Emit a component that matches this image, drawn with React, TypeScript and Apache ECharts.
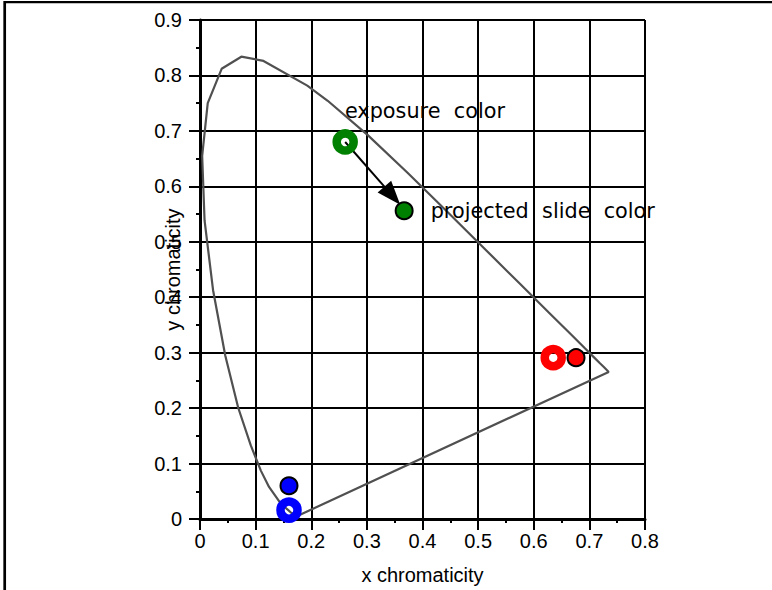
import React, { useEffect, useRef } from "react";
import * as echarts from "echarts";

// CIE 1931 spectral locus (x, y), closed by the purple line
const locusX = [0.1741, 0.1714, 0.1644, 0.1566, 0.144, 0.1241, 0.1096, 0.0913, 0.0687, 0.0454, 0.0235, 0.0082, 0.0039, 0.0139, 0.0389, 0.0743, 0.1142, 0.1929, 0.2296, 0.3016, 0.3731, 0.4441, 0.5125, 0.5752, 0.627, 0.6658, 0.6915, 0.7079, 0.719, 0.726, 0.73, 0.7347, 0.1741];
const locusY = [0.005, 0.0051, 0.0109, 0.0177, 0.0297, 0.0578, 0.0868, 0.1327, 0.2007, 0.295, 0.4127, 0.5384, 0.6548, 0.7502, 0.812, 0.8338, 0.8262, 0.7816, 0.7543, 0.6923, 0.6245, 0.5547, 0.4866, 0.4242, 0.3725, 0.334, 0.3083, 0.292, 0.2809, 0.274, 0.27, 0.2653, 0.005];

// Exposure colors (hollow rings)
const exposureNames = ["green", "red", "blue"];
const exposureX = [0.261, 0.635, 0.16];
const exposureY = [0.68, 0.291, 0.016];
const exposureColors = ["#008000", "#ff0000", "#0000ff"];

// Projected slide colors (filled circles)
const projectedX = [0.367, 0.676, 0.16];
const projectedY = [0.556, 0.291, 0.06];

// Arrow from exposure to projected green
const arrowFrom = [0.261, 0.68];
const arrowTo = [0.36, 0.567];

const xTicks = ["0", "0.1", "0.2", "0.3", "0.4", "0.5", "0.6", "0.7", "0.8"];
const yTicks = ["0", "0.1", "0.2", "0.3", "0.4", "0.5", "0.6", "0.7", "0.8", "0.9"];

const labelFont = "'Liberation Sans', Arial, sans-serif";
const noteFont = "'DejaVu Sans', Verdana, sans-serif";

export default function App() {
  const ref = useRef<HTMLDivElement>(null);
  useEffect(() => {
    if (!ref.current) return;
    const chart = echarts.init(ref.current, null, { renderer: "svg" });
    const axisCommon = (ticks: string[]) => ({
      type: "value" as const,
      interval: 0.1,
      nameMoveOverlap: false,
      axisLine: { onZero: false, lineStyle: { color: "#000", width: 3 } },
      axisTick: { show: true, length: 11, lineStyle: { color: "#000", width: 2 } },
      minorTick: { show: true, splitNumber: 2, length: 4, lineStyle: { color: "#000", width: 2 } },
      splitLine: { show: true, lineStyle: { color: "#000", width: 2 } },
      axisLabel: {
        color: "#000",
        fontSize: 20,
        fontFamily: labelFont,
        formatter: (v: number) => ticks[Math.round(v * 10)] ?? "",
      },
      nameTextStyle: { color: "#000", fontSize: 20, fontFamily: labelFont },
    });
    const rings = exposureX.map((x, i) => ({
      value: [x, exposureY[i]],
      name: exposureNames[i],
      itemStyle: { color: "rgba(0,0,0,0)", borderColor: exposureColors[i], borderWidth: 8.5, opacity: 1 },
    }));
    const dots = projectedX.map((x, i) => ({
      value: [x, projectedY[i]],
      name: exposureNames[i],
      itemStyle: { color: exposureColors[i], borderColor: "#000", borderWidth: 2, opacity: 1 },
    }));
    chart.setOption({
      animation: false,
      grid: { left: 200, top: 20, width: 445, height: 499 },
      xAxis: {
        ...axisCommon(xTicks),
        min: 0,
        max: 0.8,
        name: "x chromaticity",
        nameLocation: "middle",
        nameGap: 46,
        axisLabel: { ...axisCommon(xTicks).axisLabel, margin: 12 },
      },
      yAxis: {
        ...axisCommon(yTicks),
        min: 0,
        max: 0.9,
        name: "y chromaticity",
        nameLocation: "middle",
        nameRotate: 90,
        nameGap: 17,
        axisLabel: { ...axisCommon(yTicks).axisLabel, margin: 18 },
      },
      graphic: [
        { type: "line", shape: { x1: 4, y1: 2.2, x2: 772, y2: 2.2 }, style: { stroke: "#000", lineWidth: 2.3 } },
        { type: "line", shape: { x1: 4.7, y1: 1, x2: 4.7, y2: 590 }, style: { stroke: "#000", lineWidth: 2.7 } },
      ],
      series: [
        {
          type: "line",
          data: locusX.map((x, i) => [x, locusY[i]]),
          showSymbol: false,
          lineStyle: { color: "#505050", width: 2.2 },
          z: 2,
        },
        {
          type: "custom",
          coordinateSystem: "cartesian2d",
          data: [[arrowFrom[0], arrowFrom[1], arrowTo[0], arrowTo[1]]],
          renderItem: (params: any, api: any) => {
            const p1 = api.coord([api.value(0), api.value(1)]);
            const p2 = api.coord([api.value(2), api.value(3)]);
            const dx = p2[0] - p1[0];
            const dy = p2[1] - p1[1];
            const len = Math.sqrt(dx * dx + dy * dy);
            const ux = dx / len;
            const uy = dy / len;
            const headL = 24;
            const headW = 9;
            const bx = p2[0] - ux * headL;
            const by = p2[1] - uy * headL;
            return {
              type: "group",
              children: [
                {
                  type: "line",
                  shape: { x1: p1[0], y1: p1[1], x2: bx, y2: by },
                  style: { stroke: "#000", lineWidth: 2 },
                },
                {
                  type: "polygon",
                  shape: {
                    points: [
                      [p2[0], p2[1]],
                      [bx - uy * headW, by + ux * headW],
                      [bx + uy * headW, by - ux * headW],
                    ],
                  },
                  style: { fill: "#000" },
                },
              ],
            };
          },
          z: 3,
        },
        {
          type: "scatter",
          data: dots,
          symbol: "circle",
          symbolSize: 17,
          z: 4,
          label: {
            show: true,
            position: "right",
            distance: 17,
            color: "#000",
            fontSize: 20.8,
            fontFamily: noteFont,
            formatter: (p: any) => (p.dataIndex === 0 ? "projected  slide  color" : ""),
          },
        },
        {
          type: "scatter",
          data: rings,
          symbol: "circle",
          symbolSize: 17,
          z: 5,
          label: {
            show: true,
            position: "right",
            distance: 0,
            offset: [-13, -31],
            color: "#000",
            fontSize: 20.8,
            fontFamily: noteFont,
            formatter: (p: any) => (p.dataIndex === 0 ? "exposure  color" : ""),
          },
        },
      ],
    });
    return () => chart.dispose();
  }, []);
  return (
    <div
      ref={ref}
      style={{ position: "fixed", left: 0, top: 0, width: 772, height: 590, background: "#fff" }}
    />
  );
}
